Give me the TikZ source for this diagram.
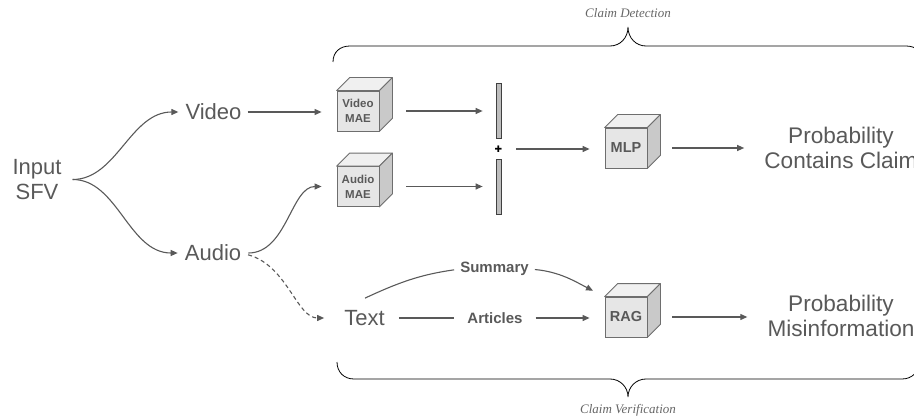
\documentclass[tikz,border=0pt]{standalone}
\usepackage{fontspec}
\setmainfont{Liberation Sans}
\newfontfamily\serifit{Liberation Serif}
\newfontfamily\dejavu{DejaVu Sans}
\usetikzlibrary{arrows.meta}

\definecolor{ink}{HTML}{595959}
\definecolor{cubefront}{HTML}{E6E6E6}
\definecolor{cubetop}{HTML}{F0F0F0}
\definecolor{cubeside}{HTML}{C9C9C9}
\definecolor{cubeline}{HTML}{6E6E6E}
\definecolor{barfill}{HTML}{BDBDBD}

\newcommand\mkcube[5]{%
  \node[front,font=\fontsize{#5}{15}\selectfont\bfseries] (#1) at (#2,#3) {#4};
  \draw[cubeedge,fill=cubetop] (#1.north west) -- ++(13,13) -- ([shift={(13,13)}]#1.north east) -- (#1.north east) -- cycle;
  \draw[cubeedge,fill=cubeside] (#1.north east) -- ++(13,13) -- ([shift={(13,13)}]#1.south east) -- (#1.south east) -- cycle;
}

\begin{document}
\begin{tikzpicture}[x=1pt,y=1pt,
  lbl/.style={text=ink, font=\fontsize{22}{25}\selectfont, inner sep=0pt, align=center},
  outlbl/.style={lbl, font=\fontsize{22.6}{25}\selectfont},
  arr/.style={draw=ink, line width=1.1pt, -{Triangle[length=7pt,width=6pt]}},
  ln/.style={draw=ink, line width=1.1pt},
  front/.style={draw=cubeline, fill=cubefront, line width=0.8pt, minimum width=42pt, minimum height=40pt, inner sep=0pt, align=center, text=ink},
  cubeedge/.style={draw=cubeline, line width=0.8pt, line join=round},
  bar/.style={draw=black!75, fill=barfill, minimum width=5pt, minimum height=55pt, inner sep=0pt, line width=0.7pt},
  blbl/.style={text=ink, font=\fontsize{15}{17}\selectfont\bfseries, inner sep=0pt},
  captxt/.style={text=black!60, font=\serifit\itshape\fontsize{13}{15}\selectfont, inner sep=0pt},
  brace/.style={draw=black, line width=0.8pt}
]
\useasboundingbox (0,0) rectangle (914,-420);

% text nodes
\node[lbl] (input) at (37,-179.5) {Input\\SFV};
\node[lbl] (video) at (213.5,-112) {Video};
\node[lbl] (audio) at (213,-253) {Audio};
\node[lbl] (text) at (364.5,-318) {Text};
\node[outlbl] (prob1) at (841,-148) {Probability\\Contains Claim};
\node[outlbl] (prob2) at (841,-316) {Probability\\Misinformation};
\node[blbl] (summary) at (494.5,-269) {Summary};
\node[blbl] (articles) at (495,-318) {Articles};

% cubes
\mkcube{videomae}{358}{-111}{Video\\MAE}{11.5}
\mkcube{audiomae}{358}{-186.5}{Audio\\MAE}{11.5}
\mkcube{mlp}{626}{-148}{MLP}{14.5}
\mkcube{rag}{626}{-317}{RAG}{14.5}

% bars and plus
\node[bar] (bar1) at (498.5,-111) {};
\node[bar] (bar2) at (498.5,-186.5) {};
\node[font=\dejavu\fontsize{9}{9}\selectfont, inner sep=0pt, text=black] (plus) at (498.5,-149) {✚};

% connectors
\draw[arr, shorten <=11pt, shorten >=7pt] (input.east) to[out=0,in=180] (video.west);
\draw[arr, shorten <=11pt, shorten >=7pt] (input.east) to[out=0,in=180] (audio.west);
\draw[arr, shorten <=6pt, shorten >=15pt] (video.east) -- (video.east -| videomae.west);
\draw[arr, shorten <=7pt, shorten >=15pt] (audio.east) to[out=0,in=180] (audiomae.west);
\draw[arr, dashed, dash pattern=on 4pt off 3pt, shorten <=7pt, shorten >=20pt] (audio.east) to[out=-15,in=180] (text.west);

\draw[arr, shorten <=27pt, shorten >=13pt] (videomae.east) -- (videomae.east -| bar1.west);
\draw[arr, shorten <=27pt, shorten >=13pt] (audiomae.east) -- (audiomae.east -| bar2.west);
\draw[arr, shorten <=14pt, shorten >=15pt] (plus.east) -- (plus.east -| mlp.west);
\draw[arr, shorten <=25pt, shorten >=20pt] (mlp.east) -- (mlp.east -| prob1.west);

\draw[ln, shorten <=14pt, shorten >=13pt] (text.east) -- (text.east -| articles.west);
\draw[arr, shorten <=13pt, shorten >=15pt] (articles.east) -- (articles.east -| rag.west);
\draw[ln, shorten >=6pt] ([shift={(0.5,12)}]text.north) to[out=25,in=188] (summary.west);
\draw[arr, shorten <=6pt, shorten >=13pt] (summary.east) to[out=-5,in=153] (rag.north west);
\draw[arr, shorten <=25pt, shorten >=20pt] (rag.east) -- (rag.east -| prob2.west);

% braces
\draw[brace] (333,-62) .. controls (333,-52) and (340,-46) .. (350,-46) -- (610,-46)
  .. controls (620,-46) and (628,-38) .. (628,-27)
  .. controls (628,-38) and (636,-46) .. (646,-46) -- (906,-46)
  .. controls (916,-46) and (923,-52) .. (923,-62);
\draw[brace] (337,-362) .. controls (337,-372) and (344,-379) .. (354,-379) -- (610,-379)
  .. controls (620,-379) and (628,-387) .. (628,-397)
  .. controls (628,-387) and (636,-379) .. (646,-379) -- (902,-379)
  .. controls (912,-379) and (919,-372) .. (919,-362);
\node[captxt] (cd) at (628,-13) {Claim Detection};
\node[captxt] (cv) at (628,-410) {Claim Verification};
\end{tikzpicture}
\end{document}
